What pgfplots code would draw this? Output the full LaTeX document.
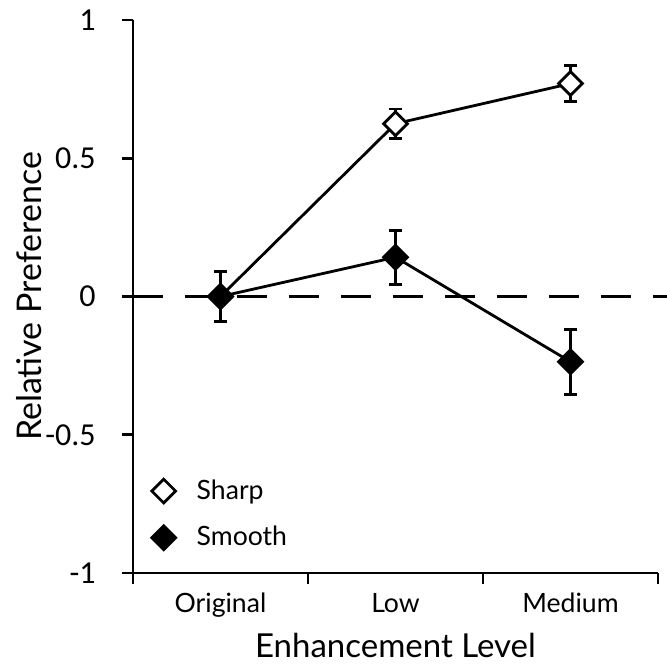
\documentclass[border=0pt]{standalone}
\usepackage{pgfplots}
\pgfplotsset{compat=1.18}
\usepackage{fontspec}
\setmainfont{Lato}
\newfontfamily\tickfont{Carlito}

\pgfplotstableread{
x y e
0 0 0.09
1 0.625 0.053
2 0.770 0.065
}\sharpdata
\pgfplotstableread{
x y e
0 0 0.09
1 0.142 0.098
2 -0.236 0.117
}\smoothdata

\begin{document}
\begin{tikzpicture}
\begin{axis}[
  scale only axis, width=262.5pt, height=276.5pt,
  xmin=-0.5, xmax=2.5, ymin=-1, ymax=1,
  axis lines=left,
  axis line style={line width=1.4pt, -},
  clip=false,
  tick align=outside,
  major tick length=5.5pt,
  tick style={line width=1.4pt, black},
  xtick={-0.5,0.5,1.5,2.5},
  xticklabels={,,,},
  extra x ticks={0,1,2},
  extra x tick labels={Original,Low,Medium},
  extra x tick style={major tick length=0pt},
  xticklabel style={font=\fontsize{13.3}{15}\selectfont, anchor=base, yshift=-19.5pt},
  ytick={-1,-0.5,0,0.5,1},
  yticklabels={-1,-0.5,0,0.5,1},
  yticklabel style={font=\fontsize{16}{18}\tickfont, anchor=east, inner sep=0pt, xshift=-13pt},
  xlabel={Enhancement Level},
  xlabel style={font=\fontsize{16.5}{19}\selectfont, at={(axis description cs:0.5,-0.1519)}, anchor=base},
  ylabel={Relative Preference},
  ylabel style={font=\fontsize{17}{19}\selectfont, at={(axis description cs:-0.1733,0.5)}, anchor=base, rotate=0},
  legend image code/.code={
    \path[draw=none, fill=none] (0pt,0pt) -- (21pt,0pt);
    \draw[#1] plot coordinates {(6.5pt,0pt)};
  },
  legend style={draw=none, fill=none, at={(axis description cs:0.033,0.106)}, anchor=west, inner sep=0pt, row sep=8pt, font=\fontsize{13.3}{15}\selectfont},
  legend cell align=left,
]
\addplot[line width=1.4pt, dash pattern=on 15pt off 11pt, forget plot] coordinates {(-0.5,0) (2.55,0)};
\addplot[line width=1.4pt, black, mark=square*, mark size=4.2pt,
  mark options={rotate=45, fill=white, draw=black, solid, line width=1.4pt},
  error bars/.cd, y dir=both, y explicit, error mark=|,
  error bar style={line width=1.4pt, black},
  error mark options={mark size=3.25pt, line width=1.4pt, black}]
  table[x=x, y=y, y error=e] {\sharpdata};
\addlegendentry{Sharp}
\addplot[line width=1.4pt, black, mark=square*, mark size=4.2pt,
  mark options={rotate=45, fill=black, draw=black, solid, line width=1.4pt},
  error bars/.cd, y dir=both, y explicit, error mark=|,
  error bar style={line width=1.4pt, black},
  error mark options={mark size=3.25pt, line width=1.4pt, black}]
  table[x=x, y=y, y error=e] {\smoothdata};
\addlegendentry{Smooth}
\path (rel axis cs:-0.2533,-0.1772) coordinate (bl);
\path (rel axis cs:1.01714,1.03617) coordinate (tr);
\end{axis}
\pgfresetboundingbox
\useasboundingbox (bl) rectangle (tr);
\end{tikzpicture}
\end{document}
